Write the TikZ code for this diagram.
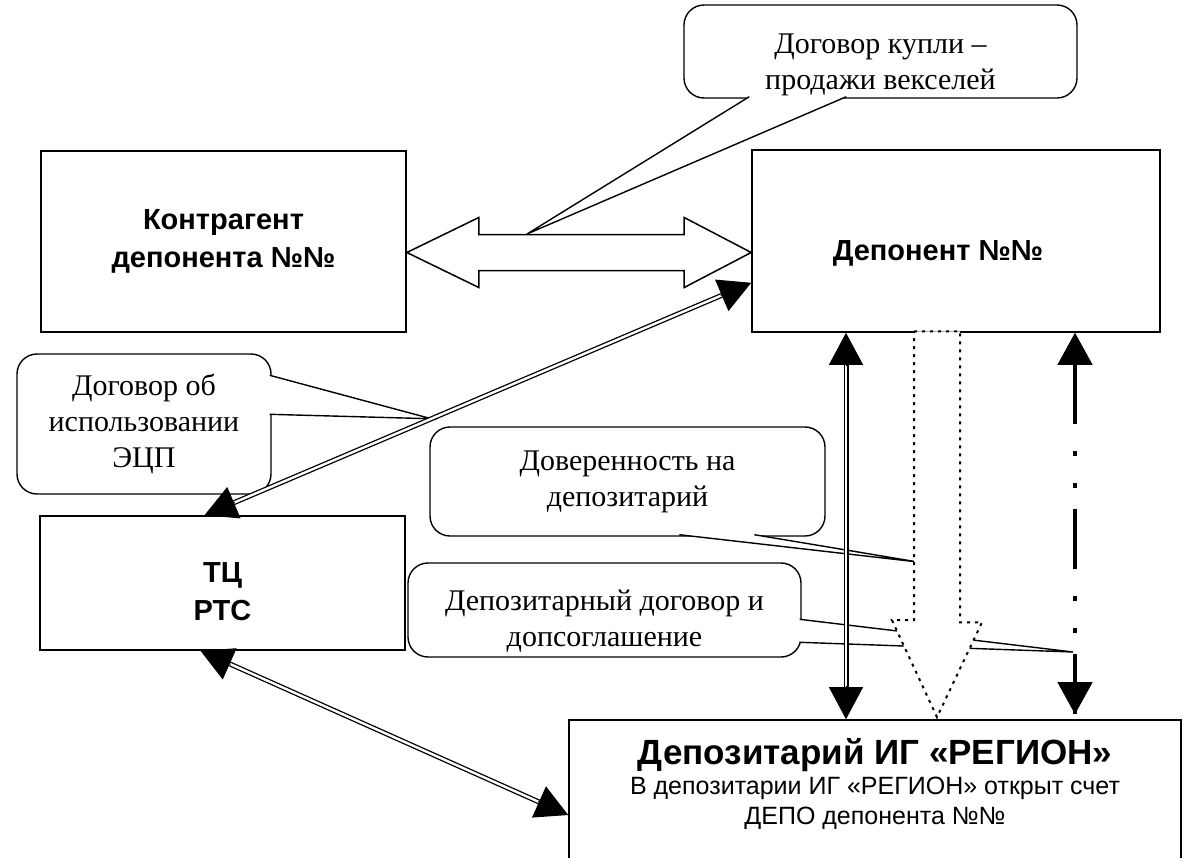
\documentclass[tikz,border=0pt]{standalone}
\usepackage{fontspec}
\setmainfont{Liberation Serif}
\setsansfont{Liberation Sans}
\usepackage{tikz}
\usetikzlibrary{calc,arrows.meta}

\begin{document}
\begin{tikzpicture}[x=1pt,y=-1pt]
            \tikzstyle{box}=[draw, line width=1.6pt, fill=white, inner sep=0pt, align=center, font=\sffamily\bfseries\fontsize{29}{38}\selectfont]
            \tikzstyle{speech}=[draw, line width=1.4pt, fill=white, rounded corners=20pt, inner sep=0pt, align=center, font=\fontsize{30}{36}\selectfont]
            \tikzstyle{tail}=[draw, line width=1.4pt, fill=white]
            \tikzstyle{dline}=[double, line width=1.3pt, double distance=2.4pt, shorten <=8pt, shorten >=8pt]
            \tikzstyle{tip}=[-{Triangle[length=32pt,width=34pt]}, line width=1pt]
            \tikzstyle{hollow}=[draw, line width=1.5pt, fill=white, line join=miter]
            \tikzstyle{dotblock}=[draw, line width=2pt, fill=white, dash pattern=on 3pt off 5pt]
            \tikzstyle{chainline}=[line width=4pt, dash pattern=on 60pt off 27pt on 5pt off 27pt on 5pt off 21pt, dash phase=114pt]
            \useasboundingbox (0,0) rectangle (1194,857);
            % Callouts
            \node[speech, minimum width=393pt, minimum height=93pt] (kupli) at (880.5,51.5) {\rule{0pt}{47pt}Договор купли –\\продажи векселей};
            \node[speech, minimum width=254pt, minimum height=140pt] (ecp) at (144,424) {Договор об\\использовании\\ЭЦП};
            \node[speech, minimum width=395pt, minimum height=109pt] (dov) at (627.5,481.5) {Доверенность на\\депозитарий};
            \node[speech, minimum width=393pt, minimum height=94pt] (dogov) at (604.5,610) {\rule{0pt}{43pt}Депозитарный договор и\\допсоглашение};
            % Boxes
            \node[box, minimum width=365pt, minimum height=181pt] (kontr) at (223.5,241.5) {Контрагент\\депонента №№};
            \node[box, minimum width=408pt, minimum height=182pt] (dep) at (956,241) {\rule{0pt}{45pt}Депонент №№\rule{36pt}{0pt}};
            \node[box, minimum width=365pt, minimum height=134pt] (tc) at (222.5,583) {\rule{0pt}{37pt}ТЦ\\РТС};
            \node[box, minimum width=612pt, minimum height=150pt, font=\sffamily\fontsize{25}{30}\selectfont] (dpz) at (875,795) {{\bfseries\fontsize{35}{40}\selectfont Депозитарий ИГ «РЕГИОН»}\\В депозитарии ИГ «РЕГИОН» открыт счет\\ДЕПО депонента №№\rule[-27pt]{0pt}{27pt}};
            % End points
            \coordinate (aL) at ([yshift=-11pt]kontr.east);
            \coordinate (aR) at (aL -| dep.west);
            \coordinate (tcTop) at ([xshift=-18pt]tc.north);
            \coordinate (depLeft) at ([yshift=50pt]dep.south west);
            \coordinate (tcBot) at ([xshift=-22pt]tc.south);
            \coordinate (dpzLeft) at ([yshift=-20pt]dpz.west);
            \coordinate (vTop) at ([xshift=-110pt]dep.south);
            \coordinate (vBot) at (vTop |- dpz.north);
            \coordinate (dTop) at ([xshift=-19pt,yshift=1.5pt]dep.south);
            \coordinate (dTip) at ([yshift=2pt]dTop |- dpz.north);
            \coordinate (ddTop) at ([xshift=119pt]dep.south);
            \coordinate (ddBot) at ([yshift=5pt]ddTop |- dpz.north);
            \coordinate (kupliTip) at (527,234);
            \coordinate (ecpTip) at ($(tcTop)!0.415!(depLeft)$);
            \coordinate (dovTip) at (918,562);
            \coordinate (dogovTip) at (1073,652);
            % Tails
            \draw[tail] ([shift={(66,-2)}]kupli.south west) -- (kupliTip) -- ([shift={(163,-2)}]kupli.south west);
            \draw[tail] ([shift={(-2,22)}]ecp.north east) -- (ecpTip) -- ([shift={(-2,61)}]ecp.north east);
            \draw[tail] ([shift={(250,-2)}]dov.south west) -- (dovTip) -- ([shift={(325,-2)}]dov.south west);
            \draw[tail] ([shift={(-2,57)}]dogov.north east) -- (dogovTip) -- ([shift={(-2,80)}]dogov.north east);
            % Wide arrow
            \draw[hollow] (aL) -- ++(72,-35) -- ++(0,17) -- ([shift={(-67,-18)}]aR) -- ++(0,-17) -- (aR) -- ++(-67,35) -- ++(0,-17) -- ([shift={(72,18)}]aL) -- ++(0,17) -- cycle;
            % Double lines
            \draw[dline] (tcTop) -- (depLeft);
            \draw[tip] ($(tcTop)!33pt!(depLeft)$) -- (tcTop);
            \draw[tip] ($(depLeft)!33pt!(tcTop)$) -- (depLeft);
            \draw[dline] (tcBot) -- (dpzLeft);
            \draw[tip] ($(tcBot)!33pt!(dpzLeft)$) -- (tcBot);
            \draw[tip] ($(dpzLeft)!33pt!(tcBot)$) -- (dpzLeft);
            \draw[dline] (vTop) -- (vBot);
            \draw[tip] ($(vTop)!33pt!(vBot)$) -- (vTop);
            \draw[tip] ($(vBot)!33pt!(vTop)$) -- (vBot);
            % Dotted arrow
            \draw[dotblock] ([xshift=-23pt]dTop) -- ([xshift=23pt]dTop) -- ([shift={(23,291)}]dTop) -- ++(22,0) -- (dTip) -- ++(-45,-97) -- ++(22,0) -- cycle;
            % Dash-dot arrow
            \draw[chainline] (ddTop) -- (ddBot);
            \draw[tip, -{Triangle[length=32pt,width=35pt]}] ($(ddTop)!33pt!(ddBot)$) -- (ddTop);
            \draw[tip, -{Triangle[length=32pt,width=35pt]}] ($(ddBot)!33pt!(ddTop)$) -- (ddBot);
        \end{tikzpicture}
\end{document}
